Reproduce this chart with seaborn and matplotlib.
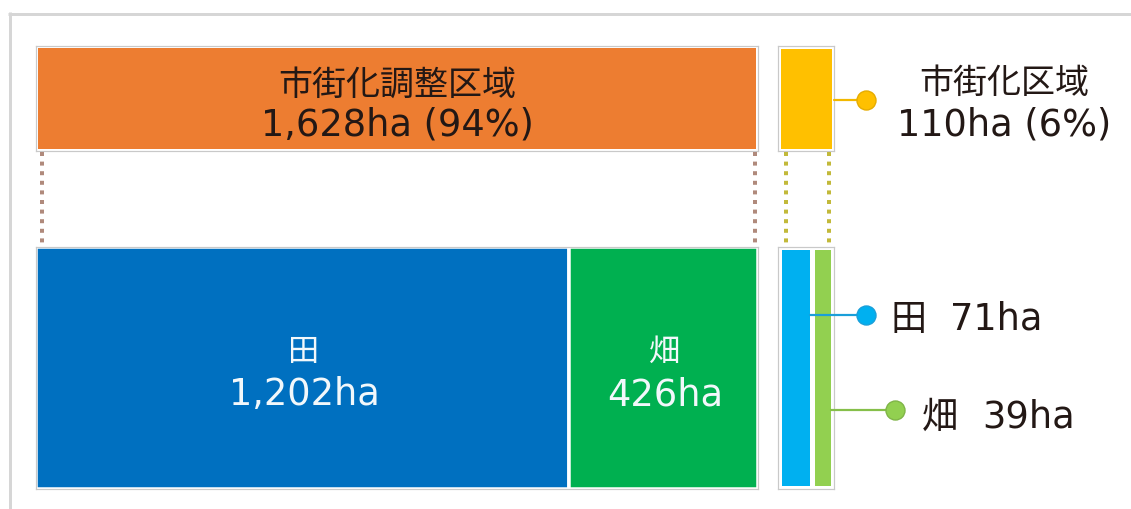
import matplotlib
matplotlib.use("Agg")
import matplotlib.pyplot as plt
import seaborn as sns
import pandas as pd

# 区域区分ごとの農地面積 (ha)
zones = ["市街化調整区域", "市街化区域"]
zone_area = [1628, 110]
crops = ["田", "畑"]
chosei_crop_area = [1202, 426]    # 市街化調整区域内の内訳
shigaika_crop_area = [71, 39]     # 市街化区域内の内訳

zone_colors = ["#ED7D31", "#FFC000"]
chosei_colors = ["#0070C0", "#00B050"]
shigaika_colors = ["#00B0F0", "#92D050"]

sns.set_theme(style="white")
plt.rcParams["font.family"] = ["Noto Sans CJK JP", "DejaVu Sans"]
NUM_FAMILY = ["DejaVu Sans", "Noto Sans CJK JP"]

W, H = 1131, 509
PX = 72 / 100  # points per pixel
fig = plt.figure(figsize=(W / 100, H / 100), dpi=100)
fig.patch.set_facecolor("white")

OUTLINE = "#c9c9c9"
DARK = "#231815"
LIGHT = "#f2f8fb"


def px_axes(x0, y0, x1, y1):
    ax = fig.add_axes([x0 / W, 1 - y1 / H, (x1 - x0) / W, (y1 - y0) / H])
    for sp in ax.spines.values():
        sp.set_visible(True)
        sp.set_color(OUTLINE)
        sp.set_linewidth(1.2 * PX)
    return ax


def clean(ax):
    ax.set(xticks=[], yticks=[], xlabel="", ylabel="")


# layout of the four blocks (pixels)
LEFT_X = (36, 758)
RIGHT_X = (778, 834)
TOP_Y = (46, 151)
BOT_Y = (247, 489)

# --- top row: zone totals ---
zone_df = pd.DataFrame({"zone": zones, "area": zone_area})
ax_tl = px_axes(LEFT_X[0], TOP_Y[0], LEFT_X[1], TOP_Y[1])
sns.barplot(data=zone_df.iloc[[0]], x="area", y="zone", orient="h", width=1,
            color=zone_colors[0], saturation=1, edgecolor="white",
            linewidth=4 * PX, ax=ax_tl)
ax_tl.set_xlim(0, zone_area[0])
ax_tl.set_ylim(0.5, -0.5)
clean(ax_tl)

ax_tr = px_axes(RIGHT_X[0], TOP_Y[0], RIGHT_X[1], TOP_Y[1])
sns.barplot(data=zone_df.iloc[[1]], x="area", y="zone", orient="h", width=1,
            color=zone_colors[1], saturation=1, edgecolor="white",
            linewidth=5 * PX, ax=ax_tr)
ax_tr.set_xlim(0, zone_area[1])
ax_tr.set_ylim(0.5, -0.5)
clean(ax_tr)

# --- bottom-left: breakdown of 市街化調整区域 ---
ax_bl = px_axes(LEFT_X[0], BOT_Y[0], LEFT_X[1], BOT_Y[1])
left = 0
for val, col in zip(chosei_crop_area, chosei_colors):
    ax_bl.barh(0, val, left=left, height=1, color=col,
               edgecolor="white", linewidth=3.5 * PX)
    left += val
ax_bl.set_xlim(0, sum(chosei_crop_area))
ax_bl.set_ylim(0.5, -0.5)
clean(ax_bl)

# --- bottom-right: breakdown of 市街化区域 (widened side-by-side strips) ---
ax_br = px_axes(RIGHT_X[0], BOT_Y[0], RIGHT_X[1], BOT_Y[1])
pad_l, gap, pad_r = 10, 12.5, 7.5
vpad = 3 / (BOT_Y[1] - BOT_Y[0])
left = 0
br_edges = []
for val, col in zip(shigaika_crop_area, shigaika_colors):
    ax_br.barh(0, val, left=left, height=1 - 2 * vpad, color=col, linewidth=0)
    br_edges.append(left + val)
    left += val + gap
ax_br.set_xlim(-pad_l, sum(shigaika_crop_area) + gap + pad_r)
ax_br.set_ylim(0.5, -0.5)
clean(ax_br)

# --- overlay in pixel coordinates: frame, connectors, leaders, labels ---
ov = fig.add_axes([0, 0, 1, 1], zorder=5)
ov.set_xlim(0, W)
ov.set_ylim(H, 0)
ov.axis("off")
ov.patch.set_visible(False)

frame_kw = dict(color="#d6d6d6", lw=3 * PX, solid_capstyle="butt")
ov.plot([8, W + 5], [13.5, 13.5], **frame_kw)
ov.plot([9.5, 9.5], [12, H + 5], **frame_kw)

dot_kw = dict(lw=4 * PX, linestyle=(0, (1.0, 1.4)))
for x in (42, 755):
    ov.plot([x, x], [TOP_Y[1] + 1, BOT_Y[0] - 1], color="#b08a7c", **dot_kw)
for x in (785.5, 828.5):
    ov.plot([x, x], [TOP_Y[1] + 1, BOT_Y[0] - 1], color="#c2b93a", **dot_kw)


def to_px_br(xval):
    x0, x1 = ax_br.get_xlim()
    return RIGHT_X[0] + (xval - x0) / (x1 - x0) * (RIGHT_X[1] - RIGHT_X[0])


marker_kw = dict(marker="o", markersize=19 * PX, markevery=[1])
ov.plot([RIGHT_X[1], 866], [99.5, 99.5], color="#F2B800", lw=2.2 * PX,
        markerfacecolor=zone_colors[1], markeredgecolor="#E6AC00", **marker_kw)
ov.plot([to_px_br(br_edges[0]), 866], [314.5, 314.5], color="#1A9FD9",
        lw=2.2 * PX, markerfacecolor=shigaika_colors[0],
        markeredgecolor="#1A9FD9", **marker_kw)
ov.plot([to_px_br(br_edges[1]), 895], [409.5, 409.5], color="#86BF4A",
        lw=2.2 * PX, markerfacecolor=shigaika_colors[1],
        markeredgecolor="#7FB547", **marker_kw)

total = sum(zone_area)
pct = [round(100 * a / total) for a in zone_area]

NAME_FS = 24.5
NUM_FS = 26.5
name_kw = dict(va="baseline", fontsize=NAME_FS)
num_kw = dict(va="baseline", fontsize=NUM_FS, family=NUM_FAMILY)

tl_cx = (LEFT_X[0] + LEFT_X[1]) / 2
ov.text(tl_cx, 95, zones[0], ha="center", color=DARK, **name_kw)
ov.text(tl_cx, 135, f"{zone_area[0]:,}ha ({pct[0]}%)", ha="center",
        color=DARK, **num_kw)

ov.text(1004.5, 93, zones[1], ha="center", color=DARK, **name_kw)
ov.text(1004, 136, f"{zone_area[1]:,}ha ({pct[1]}%)", ha="center",
        color=DARK, **num_kw)

seg_left = LEFT_X[0]
scale = (LEFT_X[1] - LEFT_X[0]) / sum(chosei_crop_area)
for name, val in zip(crops, chosei_crop_area):
    cx = seg_left + val * scale / 2
    ov.text(cx + 1, 361, name, ha="center", va="baseline", fontsize=22.5,
            color=LIGHT)
    ov.text(cx + 2, 405, f"{val:,}ha", ha="center", color=LIGHT, **num_kw)
    seg_left += val * scale

for name, val, nx, vx, y in zip(crops, shigaika_crop_area, (891, 922),
                                (950, 982), (330, 428)):
    ov.text(nx, y, name, ha="left", va="baseline", fontsize=26, color=DARK)
    ov.text(vx, y, f"{val}ha", ha="left", color=DARK, **num_kw)

fig.savefig("out.png", dpi=100, facecolor="white")
